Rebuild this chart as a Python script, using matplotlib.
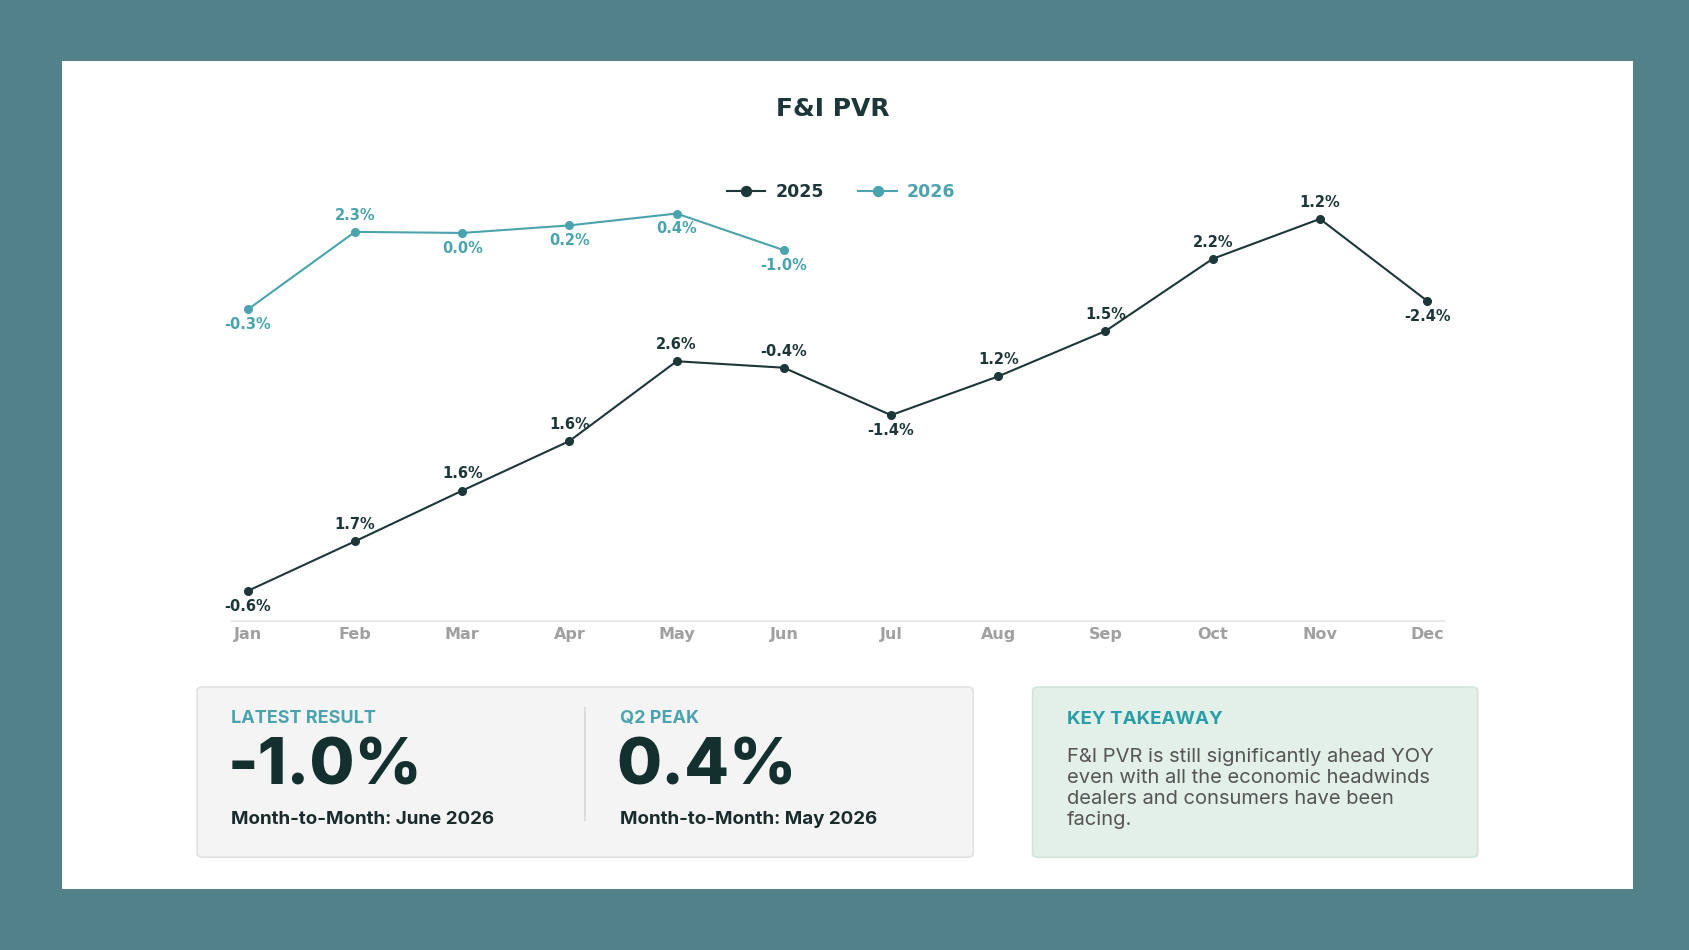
import matplotlib.pyplot as plt
from matplotlib.patches import FancyBboxPatch, Rectangle
from matplotlib.lines import Line2D

plt.rcParams['font.family'] = ['DejaVu Sans']
CARD_FONT = ['Inter', 'DejaVu Sans']

# F&I PVR level (relative units) and month-over-month change
months = ['Jan', 'Feb', 'Mar', 'Apr', 'May', 'Jun', 'Jul', 'Aug', 'Sep', 'Oct', 'Nov', 'Dec']
pvr_2025 = [28, 74, 121, 167, 241, 235, 191, 227, 269, 336, 373, 297]
mom_2025 = [-0.6, 1.7, 1.6, 1.6, 2.6, -0.4, -1.4, 1.2, 1.5, 2.2, 1.2, -2.4]
pvr_2026 = [289, 361, 360, 367, 378, 344]
mom_2026 = [-0.3, 2.3, 0.0, 0.2, 0.4, -1.0]

# where each label sits relative to its point
side_2025 = ['below', 'above', 'above', 'above', 'above', 'above',
             'below', 'above', 'above', 'above', 'above', 'below']
side_2026 = ['below', 'above', 'below', 'below', 'below', 'below']

BG = '#52818a'
DARK = '#1d3738'
TEAL = '#4ba3ad'
GREY = '#a0a0a0'

fig = plt.figure(figsize=(16.9, 9.5), dpi=100, facecolor=BG)

# white panel
fig.patches.append(Rectangle((0.0364, 0.0647), 0.9298, 0.8706, transform=fig.transFigure,
                             facecolor='white', edgecolor='none', zorder=-5))

fig.text(0.493, 0.8854, 'F&I PVR', ha='center', va='center', fontsize=18,
         fontweight='bold', color=DARK)

ax = fig.add_axes([0.1371, 0.3462, 0.7175, 0.454])
ax.set_facecolor('none')
x = list(range(len(months)))
ax.plot(x, pvr_2025, color=DARK, lw=1.5, marker='o', ms=5.5, label='2025', zorder=3)
ax.plot(x[:len(pvr_2026)], pvr_2026, color=TEAL, lw=1.5, marker='o', ms=5.5, label='2026', zorder=3)

def label_points(xs, ys, vals, sides, color):
    for xi, yi, v, s in zip(xs, ys, vals, sides):
        off = 12 if s == 'above' else -11
        ax.annotate(f'{v:.1f}%', (xi, yi), xytext=(0, off), textcoords='offset points',
                    ha='center', va='center', fontsize=10.5, fontweight='bold', color=color)

label_points(x, pvr_2025, mom_2025, side_2025, DARK)
label_points(x, pvr_2026, mom_2026, side_2026, TEAL)

ax.set_xlim(-0.15, 11.16)
ax.set_ylim(0, 400)
ax.set_xticks(x)
ax.set_xticklabels(months, fontsize=11.5, fontweight='bold', color=GREY)
ax.set_yticks([])
ax.tick_params(axis='x', length=0, pad=4)
for s in ['top', 'right', 'left']:
    ax.spines[s].set_visible(False)
ax.spines['bottom'].set_color('#e8e8e8')
ax.spines['bottom'].set_linewidth(1.5)

leg = fig.legend(loc='center', bbox_to_anchor=(0.4977, 0.798), ncol=2, frameon=False,
                 fontsize=12.5, handlelength=2.2, columnspacing=2.0, handletextpad=0.6,
                 markerscale=1.3)
for t, c in zip(leg.get_texts(), [DARK, TEAL]):
    t.set_color(c)
    t.set_fontweight('bold')

# summary cards
fig.patches.append(FancyBboxPatch((0.1167, 0.0976), 0.4592, 0.1793, transform=fig.transFigure,
                                  boxstyle='round,pad=0,rounding_size=0.004',
                                  facecolor='#f4f4f4', edgecolor='#e2e2e2', lw=1.2, zorder=1))
fig.patches.append(FancyBboxPatch((0.611, 0.0976), 0.2634, 0.1793, transform=fig.transFigure,
                                  boxstyle='round,pad=0,rounding_size=0.004',
                                  facecolor='#e3efe9', edgecolor='#d3e4da', lw=1.2, zorder=1))
fig.add_artist(Line2D([0.3463, 0.3463], [0.1373, 0.2543], transform=fig.transFigure,
                      color='#d6d6d6', lw=1.2))

for x0, head, big, sub in [(0.1365, 'LATEST RESULT', '-1.0%', 'Month-to-Month: June 2026'),
                           (0.3667, 'Q2 PEAK', '0.4%', 'Month-to-Month: May 2026')]:
    fig.text(x0, 0.2440, head, ha='left', va='center', fontsize=13, fontweight='bold',
             color=TEAL, family=CARD_FONT)
    fig.text(x0 - 0.002, 0.1918, big, ha='left', va='center', fontsize=47, fontweight='heavy',
             color='#13302f', family=CARD_FONT)
    fig.text(x0, 0.1373, sub, ha='left', va='center', fontsize=13.5, fontweight='bold',
             color='#1a2b2b', family=CARD_FONT)

fig.text(0.6314, 0.2429, 'KEY TAKEAWAY', ha='left', va='center', fontsize=13.5,
         fontweight='bold', color='#2a9ea8', family=CARD_FONT)
fig.text(0.6314, 0.2125,
         'F&I PVR is still significantly ahead YOY\neven with all the economic headwinds\n'
         'dealers and consumers have been\nfacing.',
         ha='left', va='top', fontsize=14.5, color='#555555', linespacing=1.22, family=CARD_FONT)

plt.savefig('out.png', dpi=100, facecolor=BG)
